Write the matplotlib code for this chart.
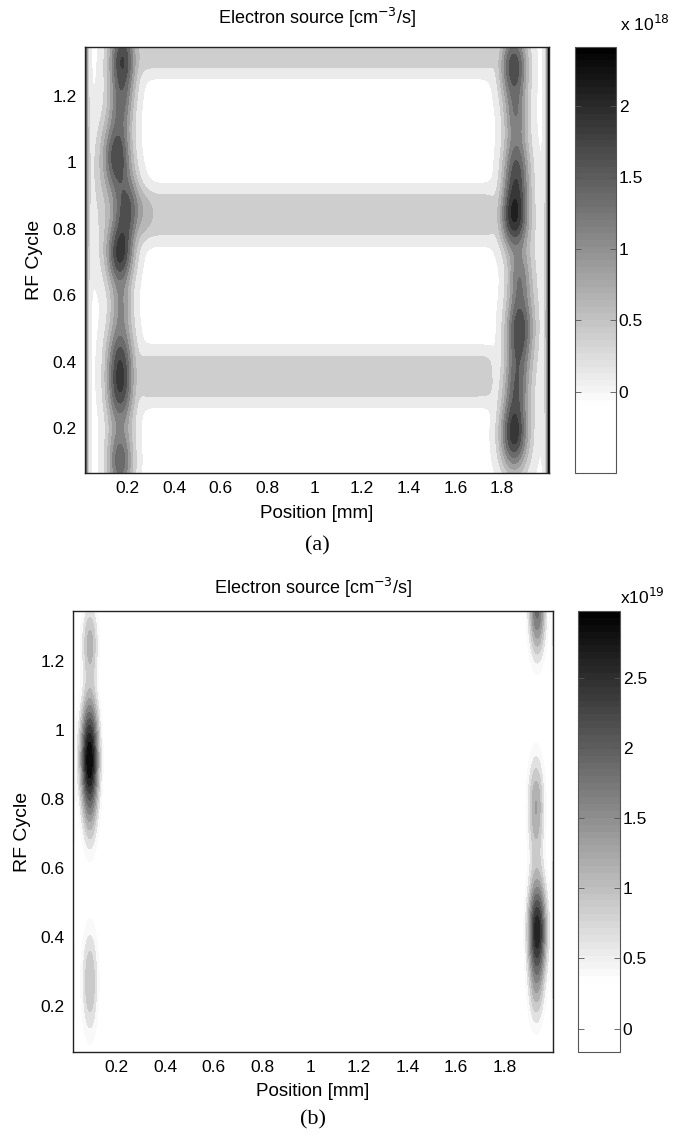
import numpy as np
import matplotlib
matplotlib.use("Agg")
import matplotlib.pyplot as plt
from matplotlib.colors import ListedColormap, Normalize
from matplotlib.cm import ScalarMappable
from matplotlib.ticker import FuncFormatter

plt.rcParams['font.family'] = ['Liberation Sans', 'DejaVu Sans']
plt.rcParams['font.size'] = 12

# ---- domain (position in mm, time in RF cycles) ----
pos_range = (0.02, 2.0)
cycle_range = (0.066, 1.346)
x_ticks = [0.2, 0.4, 0.6, 0.8, 1, 1.2, 1.4, 1.6, 1.8]
y_ticks = [0.2, 0.4, 0.6, 0.8, 1, 1.2]

# ---- case (a): source in units of 1e18 cm^-3/s ----
a_background = -0.10
a_bulk_edges = (0.26, 1.76)          # bulk plasma extent in x
a_band_cycle = [0.357, 0.842, 1.345]  # ionisation bands in the bulk
a_band_width = [0.079, 0.079, 0.079]
a_band_peak = [0.54, 0.54, 0.54]
# sheath-edge maxima: x0, t0, sx, st, amplitude
a_blob_x = [0.180, 0.175, 0.160, 0.205, 0.170, 0.175, 0.170, 0.170, 0.170, 0.100,
            1.850, 1.860, 1.860, 1.850, 1.870, 1.870, 1.860, 1.850, 1.920]
a_blob_t = [1.310, 1.170, 1.020, 0.860, 0.720, 0.570, 0.420, 0.300, 0.100, 0.920,
            1.290, 1.140, 0.980, 0.830, 0.660, 0.500, 0.340, 0.180, 0.550]
a_blob_sx = [0.042, 0.036, 0.042, 0.042, 0.040, 0.032, 0.042, 0.042, 0.040, 0.050,
             0.042, 0.036, 0.040, 0.042, 0.034, 0.040, 0.037, 0.042, 0.040]
a_blob_st = [0.080, 0.060, 0.080, 0.070, 0.070, 0.055, 0.080, 0.070, 0.080, 0.180,
             0.080, 0.060, 0.080, 0.070, 0.060, 0.080, 0.070, 0.080, 0.250]
a_blob_amp = [1.80, 0.80, 1.60, 1.40, 1.75, 0.70, 1.45, 1.25, 1.50, 0.35,
              1.75, 0.85, 1.50, 1.85, 0.90, 1.60, 1.10, 1.90, 0.30]
a_wall_amp = 2.4
a_cbar_range = (-0.566, 2.41)
a_cbar_ticks = [0, 0.5, 1, 1.5, 2]

# ---- case (b): source in units of 1e19 cm^-3/s ----
b_background = -0.15
b_blob_x = [0.090, 0.090, 0.088, 0.090, 0.090, 1.935, 1.930, 1.935, 1.930]
b_blob_t = [1.250, 1.050, 0.920, 0.750, 0.270, 1.360, 0.780, 0.420, 0.220]
b_blob_sx = [0.026, 0.025, 0.028, 0.025, 0.026, 0.026, 0.026, 0.028, 0.025]
b_blob_st = [0.095, 0.060, 0.100, 0.095, 0.125, 0.110, 0.115, 0.110, 0.085]
b_blob_amp = [1.25, 0.55, 2.90, 0.90, 1.15, 2.00, 1.40, 2.80, 0.70]
b_wall_amp = 0.6
b_cbar_range = (-0.167, 2.976)
b_cbar_ticks = [0, 0.5, 1, 1.5, 2, 2.5]

x = np.linspace(*pos_range, 397)
t = np.linspace(*cycle_range, 257)
X, T = np.meshgrid(x, t)


def blobs(bx, bt, bsx, bst, bamp):
    z = np.zeros_like(X)
    for x0, t0, sx, st, amp in zip(bx, bt, bsx, bst, bamp):
        z += amp * np.exp(-0.5 * ((X - x0) / sx) ** 2 - 0.5 * ((T - t0) / st) ** 2)
    return z


def walls(amp):
    return amp * (np.exp(-(X - pos_range[0]) / 0.008) + np.exp(-(pos_range[1] - X) / 0.008))


# field (a): bulk bands + sheath maxima + wall spikes
plateau = 1 / (1 + np.exp(-(X - a_bulk_edges[0]) / 0.012)) / (1 + np.exp(-(a_bulk_edges[1] - X) / 0.012))
bands = np.zeros_like(X)
for c, w, p in zip(a_band_cycle, a_band_width, a_band_peak):
    bands += p * np.exp(-np.abs((T - c) / w) ** 3)
Za = a_background + plateau * bands + blobs(a_blob_x, a_blob_t, a_blob_sx, a_blob_st, a_blob_amp) + walls(a_wall_amp)

Zb = b_background + blobs(b_blob_x, b_blob_t, b_blob_sx, b_blob_st, b_blob_amp) + walls(b_wall_amp)

# white lower part, then linear grey ramp to black (64 entries)
frac = (np.arange(64) + 0.5) / 64
grey = np.where(frac < 0.16, 1.0, 1 - (frac - 0.16) / 0.84)
cmap = ListedColormap(np.column_stack([grey, grey, grey]))

fig = plt.figure(figsize=(6.84, 11.35), dpi=100)
W, H = 684, 1135


def box(l, t_, r, b):
    return [l / W, 1 - b / H, (r - l) / W, (b - t_) / H]


fmt = FuncFormatter(lambda v, p: f'{v:g}')


def panel(ax_box, cax_box, Z, crange, cticks, exp_label, exp_xy, letter, title_y, xlabel_y, letter_y):
    ax = fig.add_axes(box(*ax_box))
    cax = fig.add_axes(box(*cax_box))
    norm = Normalize(*crange)
    levels = np.arange(-0.5, 3.01, 0.25)
    ax.contourf(X, T, Z, levels=levels, cmap=cmap, norm=norm, extend='both')
    ax.set_xlim(*pos_range)
    ax.set_ylim(*cycle_range)
    ax.set_xticks(x_ticks)
    ax.set_yticks(y_ticks)
    ax.xaxis.set_major_formatter(fmt)
    ax.yaxis.set_major_formatter(fmt)
    ax.tick_params(length=0, labelsize=12.5, pad=6)
    for s in ax.spines.values():
        s.set_linewidth(1.0)
        s.set_color('#222222')
    ax.set_ylabel('RF Cycle', fontsize=14, labelpad=7)

    xc = (ax_box[0] + ax_box[2]) / 2
    fig.text(xc / W, 1 - title_y / H, r'Electron source [cm$^{-3}$/s]', ha='center', va='center', fontsize=13)
    fig.text(xc / W, 1 - xlabel_y / H, 'Position [mm]', ha='center', va='center', fontsize=13.5)
    fig.text(xc / W, 1 - letter_y / H, letter, ha='center', va='center', fontsize=16,
             family='Liberation Serif')

    cb = fig.colorbar(ScalarMappable(norm=norm, cmap=cmap), cax=cax)
    cb.set_ticks(cticks)
    cb.ax.yaxis.set_major_formatter(fmt)
    cb.outline.set_linewidth(0.8)
    cb.outline.set_edgecolor('#555555')
    cax.tick_params(axis='y', direction='in', left=True, right=True, length=4,
                    width=0.6, color='#555555', labelsize=12.5, pad=2)
    fig.text(exp_xy[0] / W, 1 - exp_xy[1] / H, exp_label, ha='left', va='center', fontsize=12.5)
    return ax


panel((85, 47, 549, 473), (575, 47, 616, 473), Za, a_cbar_range, a_cbar_ticks,
      r'x 10$^{18}$', (620, 24), '(a)', 18, 514, 546)
panel((73, 611, 553, 1052), (578, 611, 620, 1052), Zb, b_cbar_range, b_cbar_ticks,
      r'x10$^{19}$', (620, 597), '(b)', 588, 1092, 1120)

fig.savefig('out.png', dpi=100)
